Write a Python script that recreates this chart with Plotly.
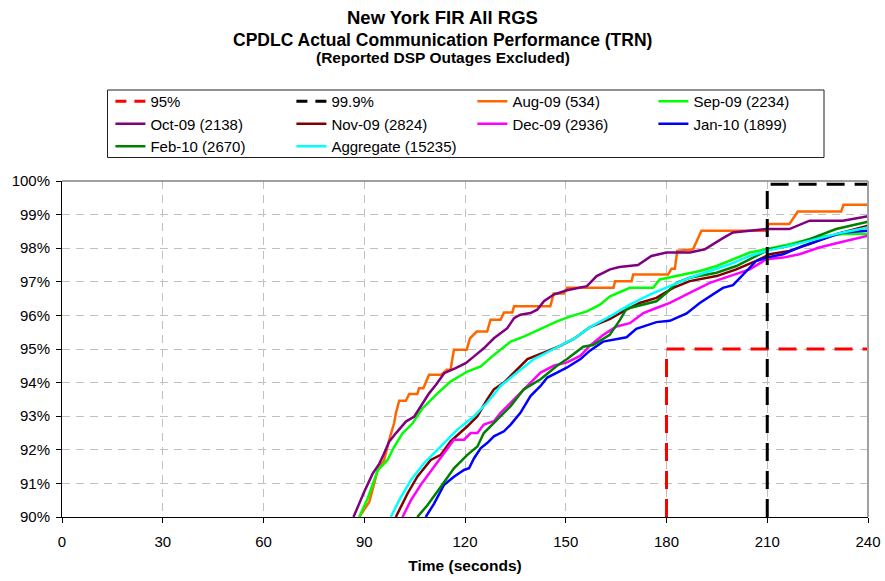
import plotly.graph_objects as go

# ---- data (time in seconds, cumulative percent) ----
aug_t = [88.5, 91.5, 94.0, 95.9, 97.7, 98.9, 99.4, 100.4, 102.4, 103.4, 105.8, 106.3, 107.6, 109.3, 112.8,
         114.6, 115.7, 116.7, 120.5, 121.5, 123.5, 126.6, 127.6, 130.6, 131.6, 134.1, 134.6, 145.4, 146.4,
         149.4, 150.4, 164.2, 164.7, 169.6, 170.1, 180.5, 181.5, 182.5, 183.2, 187.9, 190.4, 209.7, 210.4,
         216.6, 219.1, 232.0, 232.7, 240.0]
aug_v = [90.0, 90.45, 91.39, 91.69, 92.39, 92.79, 93.08, 93.46, 93.46, 93.66, 93.66, 93.83, 93.83, 94.23, 94.23,
         94.38, 94.38, 94.98, 94.98, 95.32, 95.52, 95.52, 95.87, 95.87, 96.09, 96.09, 96.27, 96.27, 96.65,
         96.65, 96.82, 96.82, 97.02, 97.02, 97.22, 97.22, 97.39, 97.39, 97.92, 97.97, 98.52, 98.52, 98.72,
         98.72, 99.09, 99.09, 99.29, 99.29]

sep_t = [88.5, 91.0, 94.0, 96.9, 98.9, 101.4, 104.4, 107.3, 111.8, 115.7, 120.7, 124.7, 128.1, 133.6, 137.5,
         142.5, 147.4, 151.4, 156.3, 160.2, 163.2, 169.1, 176.0, 178.0, 185.0, 190.0, 194.9, 199.8, 204.8,
         209.7, 216.6, 224.6, 232.5, 240.0]
sep_v = [90.0, 90.55, 91.39, 91.69, 92.09, 92.49, 92.79, 93.23, 93.68, 94.03, 94.33, 94.48, 94.78, 95.22, 95.37,
         95.59, 95.82, 95.97, 96.12, 96.32, 96.57, 96.82, 96.82, 97.07, 97.22, 97.32, 97.47, 97.67, 97.87,
         97.97, 98.12, 98.32, 98.42, 98.42]

oct_t = [86.8, 88.0, 90.0, 92.5, 94.5, 95.9, 97.4, 99.4, 102.4, 104.9, 106.8, 109.3, 111.3, 113.8, 117.2,
         120.2, 122.7, 125.6, 128.6, 132.6, 134.6, 136.5, 139.5, 141.5, 143.5, 146.4, 150.4, 156.3, 159.2,
         163.2, 166.0, 171.5, 175.5, 180.0, 187.0, 191.4, 196.8, 199.8, 209.7, 216.6, 222.6, 232.5, 240.0]
oct_v = [90.0, 90.3, 90.75, 91.29, 91.59, 91.89, 92.24, 92.49, 92.84, 92.99, 93.28, 93.68, 93.93, 94.28, 94.43,
         94.58, 94.78, 95.02, 95.32, 95.62, 95.92, 96.02, 96.07, 96.17, 96.42, 96.62, 96.75, 96.87, 97.17,
         97.37, 97.44, 97.5, 97.77, 97.87, 97.87, 97.97, 98.3, 98.47, 98.57, 98.57, 98.82, 98.82, 98.95]

nov_t = [99.4, 100.9, 102.9, 105.8, 109.8, 112.8, 115.7, 120.7, 123.7, 126.6, 128.6, 131.6, 134.6, 138.6,
         143.6, 148.5, 152.4, 157.2, 163.2, 167.1, 172.0, 177.0, 182.0, 186.9, 194.9, 200.8, 206.7, 210.7,
         216.6, 222.6, 230.5, 240.0]
nov_v = [90.0, 90.3, 90.7, 91.2, 91.7, 91.85, 92.25, 92.7, 93.0, 93.5, 93.8, 94.0, 94.3, 94.7,
         94.9, 95.1, 95.3, 95.65, 95.9, 96.12, 96.37, 96.52, 96.82, 97.02, 97.17, 97.37, 97.62, 97.82,
         97.92, 98.12, 98.42, 98.67]

dec_t = [101.4, 103.9, 106.8, 110.8, 112.8, 116.7, 119.7, 121.7, 123.7, 125.6, 128.6, 130.6, 134.6, 138.6,
         142.5, 146.4, 150.4, 154.4, 157.2, 161.2, 165.1, 169.1, 173.1, 177.0, 181.0, 186.9, 192.9, 198.8,
         204.8, 209.7, 214.7, 219.6, 225.5, 231.5, 240.0]
dec_v = [90.0, 90.5, 90.95, 91.5, 91.8, 92.3, 92.3, 92.5, 92.5, 92.75, 92.85, 93.1, 93.5, 93.9,
         94.3, 94.5, 94.6, 94.8, 95.1, 95.42, 95.67, 95.77, 96.07, 96.22, 96.37, 96.67, 96.97, 97.17,
         97.37, 97.67, 97.72, 97.82, 98.02, 98.17, 98.37]

jan_t = [108.3, 110.8, 113.7, 116.7, 119.7, 121.2, 122.7, 124.7, 126.6, 128.6, 131.6, 133.6, 136.5, 139.5,
         142.5, 144.5, 147.4, 150.4, 154.4, 157.2, 161.1, 168.1, 171.0, 177.0, 181.0, 186.0, 189.9, 196.8,
         199.8, 202.8, 206.7, 209.7, 214.7, 220.6, 226.5, 232.5, 240.0]
jan_v = [90.0, 90.4, 90.95, 91.2, 91.4, 91.45, 91.75, 92.05, 92.2, 92.4, 92.55, 92.75, 93.1, 93.6,
         93.9, 94.15, 94.3, 94.45, 94.7, 94.95, 95.22, 95.35, 95.6, 95.8, 95.84, 96.06, 96.37, 96.82,
         96.9, 97.22, 97.62, 97.72, 97.82, 98.07, 98.27, 98.47, 98.52]

feb_t = [105.8, 108.8, 112.8, 116.7, 120.7, 123.7, 125.6, 129.6, 133.6, 137.5, 142.5, 147.4, 150.4, 155.2,
         158.1, 163.1, 166.1, 168.1, 172.0, 177.0, 180.0, 183.0, 186.9, 194.9, 200.8, 206.7, 210.7, 216.6,
         222.6, 230.5, 240.0]
feb_v = [90.0, 90.35, 90.9, 91.45, 91.85, 92.1, 92.5, 92.9, 93.3, 93.8, 94.1, 94.5, 94.7, 95.07,
         95.12, 95.42, 95.86, 96.2, 96.3, 96.42, 96.67, 96.97, 97.12, 97.27, 97.47, 97.77, 97.97, 98.07,
         98.27, 98.57, 98.79]

agg_t = [97.9, 100.4, 103.9, 107.8, 112.8, 117.7, 122.7, 126.6, 130.6, 135.5, 140.5, 146.4, 152.4, 157.2,
         163.2, 169.1, 175.0, 181.0, 186.9, 192.9, 198.8, 204.8, 209.7, 216.6, 224.6, 232.5, 240.0]
agg_v = [90.0, 90.5, 91.1, 91.6, 92.1, 92.6, 93.0, 93.4, 93.9, 94.3, 94.7, 95.0, 95.3, 95.65,
         95.97, 96.32, 96.62, 96.87, 97.12, 97.32, 97.52, 97.77, 97.92, 98.07, 98.27, 98.47, 98.62]

ref95_t = [180, 180, 240]
ref95_v = [90, 95, 95]
ref999_t = [210, 210, 240]
ref999_v = [90, 99.9, 99.9]

series_names = ["Aug-09 (534)", "Sep-09 (2234)", "Oct-09 (2138)", "Nov-09 (2824)",
                "Dec-09 (2936)", "Jan-10 (1899)", "Feb-10 (2670)", "Aggregate (15235)"]
series_t = [aug_t, sep_t, oct_t, nov_t, dec_t, jan_t, feb_t, agg_t]
series_v = [aug_v, sep_v, oct_v, nov_v, dec_v, jan_v, feb_v, agg_v]
series_colors = ["#FF6600", "#00FF00", "#800080", "#800000", "#FF00FF", "#0000FF", "#008000", "#00FFFF"]

x_ticks = [0, 30, 60, 90, 120, 150, 180, 210, 240]
y_ticks = [90, 91, 92, 93, 94, 95, 96, 97, 98, 99, 100]
y_tick_labels = ["90%", "91%", "92%", "93%", "94%", "95%", "96%", "97%", "98%", "99%", "100%"]

FONT = "Arial, 'Liberation Sans', sans-serif"

fig = go.Figure()
for i, (name, t, v, c) in enumerate(zip(series_names, series_t, series_v, series_colors)):
    fig.add_trace(go.Scatter(x=t, y=v, mode="lines", name=name, legendrank=10 + i,
                             line=dict(color=c, width=2.5)))

# reference (target) lines, drawn on top of the curves
fig.add_trace(go.Scatter(x=ref95_t, y=ref95_v, mode="lines", name="95%", showlegend=False,
                         legendgroup="r95", line=dict(color="#FF0000", width=3, dash="18px,10px")))
fig.add_trace(go.Scatter(x=ref999_t, y=ref999_v, mode="lines", name="99.9%", showlegend=False,
                         legendgroup="r999", line=dict(color="#000000", width=3, dash="18px,10px")))
# legend entries for the reference lines (legend sample dash pattern)
fig.add_trace(go.Scatter(x=[None], y=[None], mode="lines", name="95%", legendrank=1,
                         legendgroup="r95", line=dict(color="#FF0000", width=3, dash="11px,8px")))
fig.add_trace(go.Scatter(x=[None], y=[None], mode="lines", name="99.9%", legendrank=2,
                         legendgroup="r999", line=dict(color="#000000", width=3, dash="11px,8px")))

W, HH = 885, 581
PL, PR, PT, PB = 62, 868, 181, 517
H = PB - PT
PW = PR - PL

def py(pix):
    return (PB - pix) / H

def px(pix):
    return (pix - PL) / PW

title_lines = [("<b>New York FIR All RGS</b>", 18.5, 17.0),
               ("<b>CPDLC Actual Communication Performance (TRN)</b>", 17.5, 39.5),
               ("<b>(Reported DSP Outages Excluded)</b>", 15.5, 57.5)]
annotations = []
for txt, sz, yc in title_lines:
    annotations.append(dict(text=txt, x=px(442.5), xref="paper", y=py(yc), yref="paper",
                            xanchor="center", yanchor="middle", showarrow=False,
                            font=dict(family=FONT, size=sz, color="black")))

fig.update_layout(
    width=W, height=HH,
    margin=dict(l=PL, r=W - PR, t=PT, b=HH - PB, autoexpand=False),
    paper_bgcolor="white", plot_bgcolor="white",
    font=dict(family=FONT, size=15, color="black"),
    annotations=annotations,
    showlegend=True,
    legend=dict(orientation="h", x=px(110.4), xanchor="left",
                y=py(85.0), yanchor="top", borderwidth=0,
                bgcolor="rgba(0,0,0,0)", entrywidth=136, entrywidthmode="pixels",
                font=dict(family=FONT, size=15, color="black"), traceorder="normal"),
    xaxis=dict(range=[0, 240], tickvals=x_ticks, showgrid=True, gridcolor="#C0C0C0",
               griddash="8px,6px", gridwidth=1, zeroline=False, showline=True,
               linecolor="black", linewidth=1, ticks="outside", ticklen=5, tickcolor="black",
               ticklabelstandoff=6,
               tickfont=dict(family=FONT, size=15, color="black"),
               title=dict(text="<b>Time (seconds)</b>", font=dict(family=FONT, size=15.5, color="black"),
                          standoff=11)),
    yaxis=dict(range=[90, 100], tickvals=y_ticks, ticktext=y_tick_labels, showgrid=True,
               gridcolor="#C0C0C0", griddash="8px,6px", gridwidth=1, zeroline=False, showline=True,
               linecolor="black", linewidth=1, ticks="outside", ticklen=5, tickcolor="black",
               ticklabelstandoff=3,
               tickfont=dict(family=FONT, size=15, color="black")),
    shapes=[dict(type="line", xref="paper", yref="paper", x0=0, x1=1, y0=1, y1=1,
                 line=dict(color="#808080", width=1.5)),
            dict(type="line", xref="paper", yref="paper", x0=1, x1=1, y0=0, y1=1,
                 line=dict(color="#A0A0A0", width=2)),
            dict(type="rect", xref="paper", yref="paper", x0=px(107.5), x1=px(824),
                 y0=py(157.5), y1=py(90), line=dict(color="#202020", width=1),
                 fillcolor="rgba(0,0,0,0)")],
)

fig.write_html("out.html", config={"displayModeBar": False},
               post_script="document.body.style.margin='0';")
